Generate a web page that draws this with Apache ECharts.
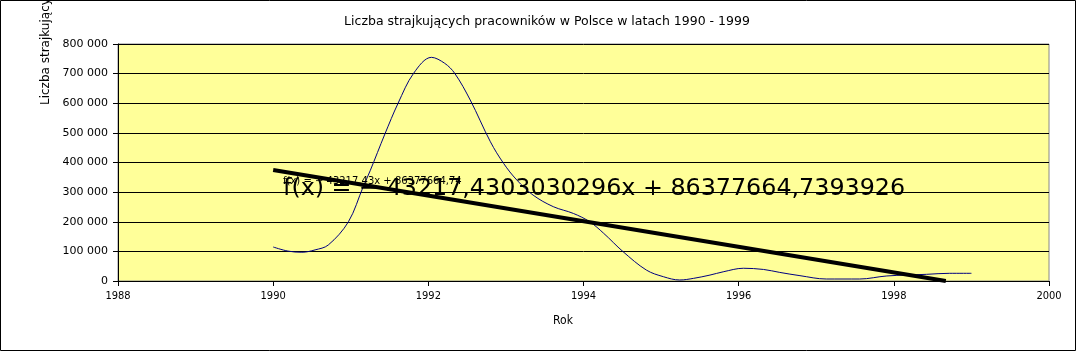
<!DOCTYPE html>
<html>
<head>
<meta charset="UTF-8">
<title>Liczba strajkujących</title>
<script src="https://cdn.jsdelivr.net/npm/echarts@6/dist/echarts.min.js"></script>
<style>
  html, body { margin: 0; padding: 0; background: #fff; }
  #main { width: 1076px; height: 351px; }
</style>
</head>
<body>
<div id="main"></div>
<script>
// lata (ułamkowe) i liczba strajkujących
var years = [1990.00, 1990.19, 1990.37, 1990.54, 1990.71, 1990.97, 1991.16, 1991.25, 1991.44, 1991.61,
             1991.81, 1992.04, 1992.21, 1992.34, 1992.54, 1992.80, 1992.97, 1993.14, 1993.35, 1993.61,
             1993.87, 1994.08, 1994.26, 1994.51, 1994.81, 1995.03, 1995.24, 1995.42, 1995.63, 1995.80,
             1996.06, 1996.32, 1996.53, 1996.79, 1997.13, 1997.56, 1997.91, 1998.42, 1998.72, 1999.00];
var strikers = [114800, 101000, 97000, 105000, 121500, 200000, 318000, 372000, 496000, 600000,
                701000, 755000, 735000, 701000, 611000, 470000, 397000, 341000, 290000, 251000,
                228000, 200000, 161000, 99000, 37000, 14500, 3400, 9000, 20000, 31000,
                43000, 39000, 29000, 18000, 6700, 6700, 17000, 22500, 26000, 26000];

// linia trendu (końce)
var trendX = [1990, 1998.67];
var trendY = [375000, 0];

var titleText = 'Liczba strajkujących pracowników w Polsce w latach 1990 - 1999';
var eqBig = 'f(x) = − 43217,4303030296x + 86377664,7393926';
var eqSmall = 'f(x) = − 43217,43x + 86377664,74';

var mainData = years.map(function (y, i) { return [y, strikers[i]]; });
var trendData = trendX.map(function (x, i) { return [x, trendY[i]]; });

var myChart = echarts.init(document.getElementById('main'));

function fmt(v) {
    return String(v).replace(/\B(?=(\d{3})+(?!\d))/g, ' ');
}

var option = {
    backgroundColor: '#ffffff',
    animation: false,
    grid: {
        left: 118, right: 27, top: 44, bottom: 70,
        show: true, backgroundColor: '#ffff99', borderColor: '#888', borderWidth: 1
    },
    xAxis: {
        type: 'value', min: 1988, max: 2000, interval: 2,
        axisLine: { show: true, lineStyle: { color: '#000' } },
        axisTick: { show: true, length: 5, lineStyle: { color: '#000' } },
        axisLabel: { color: '#000', fontSize: 11, margin: 10,
                     fontFamily: 'DejaVu Sans Condensed, DejaVu Sans',
                     formatter: function (v) { return String(v); } },
        splitLine: { show: false }
    },
    yAxis: {
        type: 'value', min: 0, max: 800000, interval: 100000,
        axisLine: { show: true, lineStyle: { color: '#000' } },
        axisTick: { show: true, length: 5, lineStyle: { color: '#000' } },
        axisLabel: { color: '#000', fontSize: 11, margin: 10,
                     fontFamily: 'DejaVu Sans', formatter: fmt },
        splitLine: { show: true, lineStyle: { color: '#000', width: 1 } }
    },
    series: [{
        type: 'line',
        data: mainData,
        smooth: 0.35,
        symbol: 'none',
        lineStyle: { color: '#000080', width: 1 },
        z: 3
    }, {
        type: 'line',
        data: trendData,
        symbol: 'none',
        lineStyle: { color: '#000', width: 4, cap: 'butt' },
        z: 4
    }],
    graphic: [{
        type: 'rect', silent: true,
        shape: { x: 0.5, y: 0.5, width: 1075, height: 350 },
        style: { fill: 'none', stroke: '#000', lineWidth: 1 }
    }, {
        type: 'text', x: 547, y: 22, silent: true,
        style: { text: titleText, fill: '#000', font: '12.5px DejaVu Sans',
                 align: 'center', verticalAlign: 'middle' }
    }, {
        type: 'text', x: 563, y: 321, silent: true,
        style: { text: 'Rok', fill: '#000', font: '12px DejaVu Sans Condensed, DejaVu Sans',
                 align: 'center', verticalAlign: 'middle' }
    }, {
        type: 'text', x: 46, y: 105, rotation: Math.PI / 2, silent: true,
        style: { text: 'Liczba strajkujących pracowników', fill: '#000', font: '12px DejaVu Sans',
                 align: 'left', verticalAlign: 'middle' }
    }, {
        type: 'text', x: 283, y: 181, silent: true, z: 10,
        style: { text: eqSmall, fill: '#000', font: '10px DejaVu Sans',
                 align: 'left', verticalAlign: 'middle' }
    }, {
        type: 'text', x: 283, y: 189, silent: true, z: 10,
        style: { text: eqBig, fill: '#000', font: '23.8px DejaVu Sans',
                 align: 'left', verticalAlign: 'middle' }
    }]
};

myChart.setOption(option);
</script>
</body>
</html>
